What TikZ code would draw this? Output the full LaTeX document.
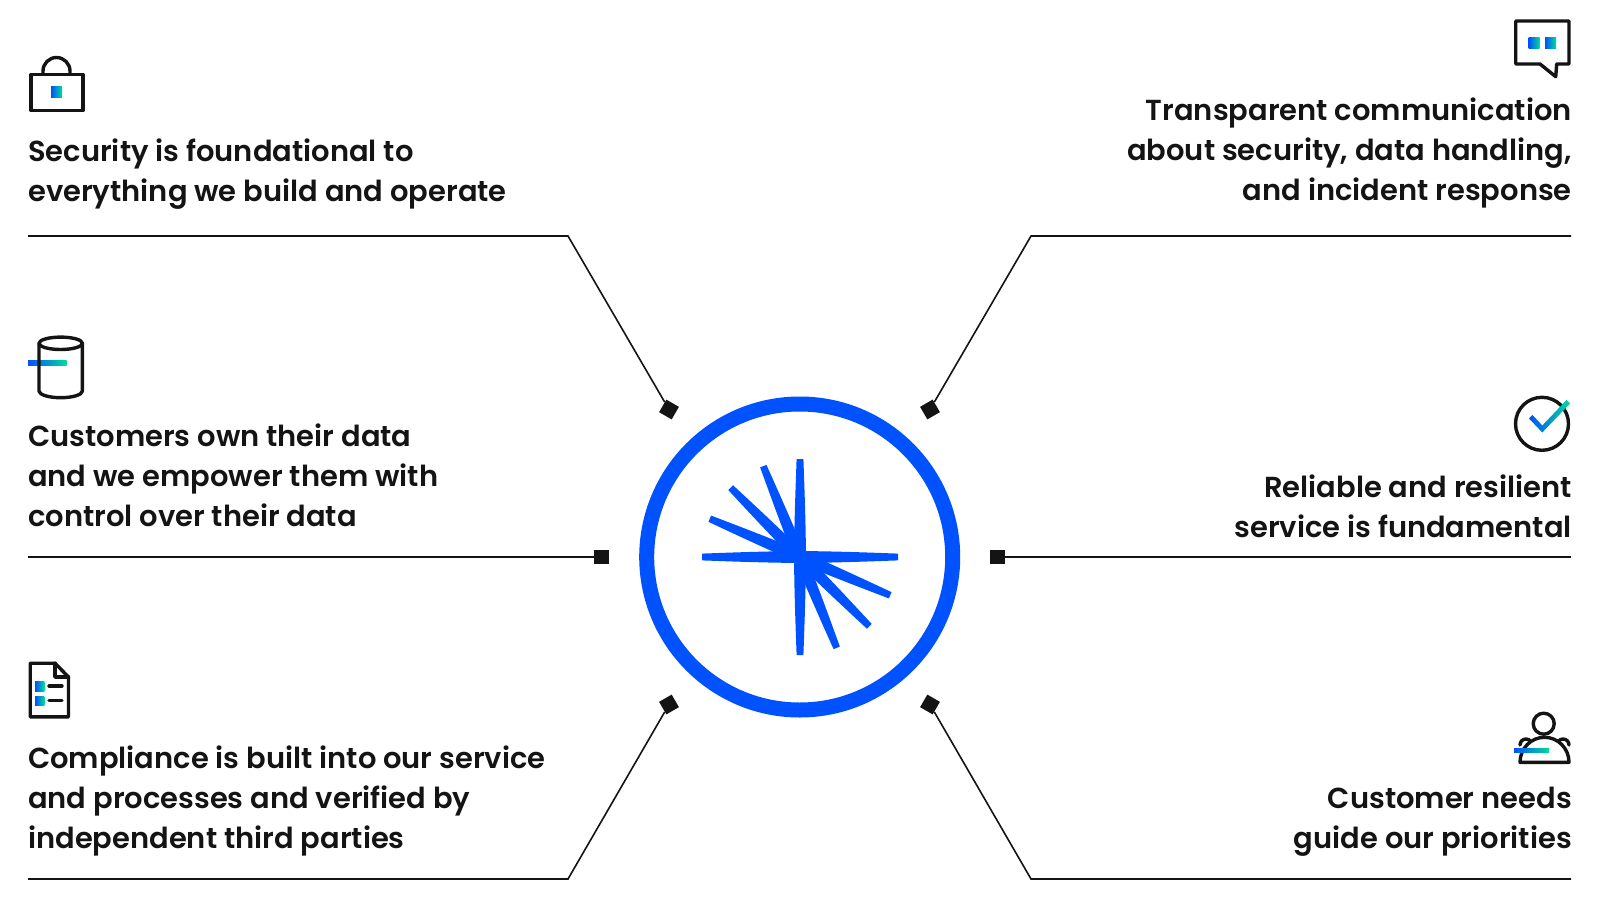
\documentclass[tikz,border=0pt]{standalone}
\usepackage{fontspec}
\usepackage{xcolor}
\usetikzlibrary{calc}
\newfontfamily\labelfont{Poppins SemiBold}
\definecolor{ink}{HTML}{141414}
\definecolor{brand}{HTML}{0052FF}
\definecolor{gblue}{HTML}{0052FF}
\definecolor{ggreen}{HTML}{00DC96}
\tikzset{
  wire/.style={draw=ink, line width=1.6pt, line join=miter},
  term/.style={fill=ink, inner sep=0pt, minimum size=14.5pt},
  icon/.style={draw=ink, line width=3.4pt, line join=round, line cap=round},
  grad/.style={left color=gblue, right color=ggreen, draw=none},
  ray/.style={fill=brand, draw=none},
  lableft/.style={anchor=west, align=left, inner sep=0pt, text=ink,
    font=\labelfont\fontsize{28.95}{40}\selectfont},
  labright/.style={anchor=east, align=right, inner sep=0pt, text=ink,
    font=\labelfont\fontsize{28.95}{40}\selectfont}
}
\newcommand{\GradBox}[2]{%
  \shade[grad] (#1) rectangle (#2);
}
\newcommand{\StarRay}[1]{%
  \fill[ray, shift={(800,557)}, rotate=#1] (0,-6) .. controls (40,-5.6) and (70,-4.4) .. (98,-3.4)
    -- (98,3.4) .. controls (70,4.4) and (40,5.6) .. (0,6) -- cycle;
}

\begin{document}
\begin{tikzpicture}[x=1pt,y=-1pt]
  \useasboundingbox (0,0) rectangle (1600,912);

  \coordinate (tlstart) at (28,236);
  \coordinate (tlbend) at (568,236);
  \coordinate (trstart) at (1571,236);
  \coordinate (trbend) at (1031,236);
  \coordinate (mlstart) at (28,557);
  \coordinate (mrstart) at (1571,557);
  \coordinate (blstart) at (28,879);
  \coordinate (blbend) at (568,879);
  \coordinate (brstart) at (1571,879);
  \coordinate (brbend) at (1031,879);

  \node[term,rotate=-30] (tlend) at (669,409.5) {};
  \node[term,rotate=30] (trend) at (930,409.5) {};
  \node[term] (mlend) at (601.5,557) {};
  \node[term] (mrend) at (997.5,557) {};
  \node[term,rotate=30] (blend) at (669,704.5) {};
  \node[term,rotate=-30] (brend) at (930,704.5) {};

  \draw[wire] (tlstart) -- (tlbend) -- (tlend);
  \draw[wire] (trstart) -- (trbend) -- (trend);
  \draw[wire] (mlstart) -- (mlend);
  \draw[wire] (mrstart) -- (mrend);
  \draw[wire] (blstart) -- (blbend) -- (blend);
  \draw[wire] (brstart) -- (brbend) -- (brend);

  \node[lableft] (security) at (28,174) {Security is foundational to\\everything we build and operate};
  \node[labright] (transparent) at (1572,153) {Transparent communication\\about security, data handling,\\and incident response};
  \node[lableft] (owndata) at (28,475.5) {Customers own their data\\and we empower them with\\control over their data};
  \node[labright] (reliable) at (1572,506) {Reliable and resilient\\service is fundamental};
  \node[lableft] (compliance) at (28,801) {Compliance is built into our service\\and processes and verified by\\independent third parties};
  \node[labright] (needs) at (1572,822) {Customer needs\\guide our priorities};

  \draw[brand, line width=15pt] (799.7,557) circle (153);
  \foreach \ang in {0,90,112,135,157,180,-90,-68,-45,-23} {
    \StarRay{\ang}
  }

  \draw[icon] (31,74.5) rectangle (83,110.5);
  \draw[icon] (43,74.5) -- (43,71) arc (180:360:13.5) -- (70,74.5);
  \GradBox{51,86.7}{62,97.7}

  \draw[icon] (1515.7,21) -- (1569,21) -- (1569,64) -- (1556.7,64) -- (1555.7,76.7) -- (1540,64) -- (1515.7,64) -- cycle;
  \GradBox{1528.7,37.3}{1539.7,48.3}
  \GradBox{1545,37.3}{1556,48.3}

  \GradBox{28,360}{66.7,365.3}
  \draw[icon] (60.7,343.3) ellipse (21.7 and 6.2);
  \draw[icon] (39,343.3) -- (39,391) arc (180:0:21.7 and 6.7) -- (82.4,343.3);

  \draw[icon] (1542,423.8) circle (26.5);
  \shade[grad] (1532.5,415) -- (1542.3,425.5) -- (1566.5,400) -- (1570.1,403.4) -- (1542.3,432.5) -- (1528.9,418.4) -- cycle;

  \draw[icon] (30.2,663.2) -- (55,663.2) -- (68.5,677) -- (68.5,716.8) -- (30.2,716.8) -- cycle;
  \draw[icon] (55,663.2) -- (55,677) -- (68.5,677);
  \GradBox{35,681.7}{44.3,691}
  \GradBox{35,696}{44.3,705.3}
  \draw[icon] (49,686) -- (62,686);
  \draw[icon] (49,700.7) -- (62,700.7);

  \draw[icon] (1543.7,723.7) circle (10.5);
  \draw[icon] (1520,762.3) arc (180:360:24.5 and 25) -- cycle;
  \draw[icon] (1520,745) arc (180:320:6);
  \draw[icon] (1569,745) arc (0:-140:6);
  \GradBox{1514,748}{1549,752.7}
\end{tikzpicture}
\end{document}
